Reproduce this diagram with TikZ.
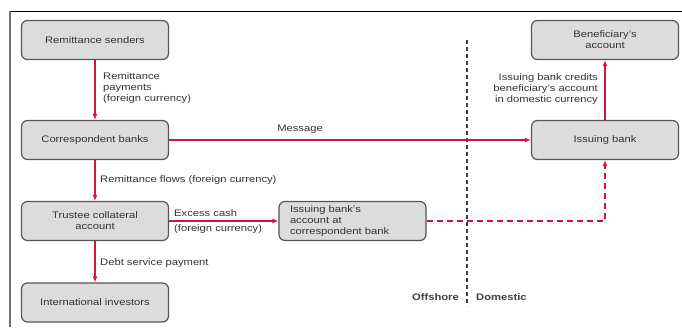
\documentclass[tikz,border=0pt]{standalone}
\usepackage{fontspec}
\setmainfont{Liberation Sans}[FakeStretch=1.18]
\usetikzlibrary{arrows.meta}
\definecolor{flowred}{HTML}{D4143C}
\definecolor{boxfill}{HTML}{DCDCDC}
\definecolor{boxedge}{HTML}{555555}
\begin{document}
\begin{tikzpicture}[x=1pt,y=-1pt,
  font=\fontsize{9.5}{11}\selectfont,
  entity/.style={draw=boxedge, fill=boxfill, line width=1.2pt, rounded corners=6pt,
    minimum width=147pt, minimum height=39pt, align=center, inner sep=0pt, text=black!80},
  flow/.style={draw=flowred, line width=1.8pt, -{Latex[length=6pt,width=5pt]}},
  lbl/.style={text=black!80, inner sep=0pt, align=left}
]
\useasboundingbox (0,0) rectangle (682,327);
% frame
\draw[black, line width=1pt] (10,11) -- (682,11);
\draw[black!55, line width=1.5pt] (10,11) -- (10,327);

% offshore / domestic divider
\draw[black!75, line width=1.8pt, dash pattern=on 4pt off 3pt] (467,40) -- (467,306);
\node[anchor=east, font=\fontsize{9.5}{11}\selectfont\bfseries, text=black!75, inner sep=0pt] (off) at (459,297) {Offshore};
\node[anchor=west, font=\fontsize{9.5}{11}\selectfont\bfseries, text=black!75, inner sep=0pt] (dom) at (476,297) {Domestic};

% entities
\node[entity] (senders) at (95,40) {Remittance senders};
\node[entity] (corr) at (95,140) {Correspondent banks};
\node[entity] (trustee) at (95,221) {Trustee collateral\\account};
\node[entity] (investors) at (95,302.5) {International investors};
\node[entity, align=left, text width=125pt] (acct) at (352.5,221) {Issuing bank's\\account at\\correspondent bank};
\node[entity] (benef) at (605,40) {Beneficiary's\\account};
\node[entity] (issuing) at (605,140) {Issuing bank};

% flows
\draw[flow] (senders) -- (corr);
\draw[flow] (corr) -- (trustee);
\draw[flow] (trustee) -- (investors);
\draw[flow] (trustee) -- (acct);
\draw[flow] (corr) -- (issuing);
\draw[flow] (issuing) -- (benef);
\coordinate (turn) at (issuing.south |- acct.east);
\draw[flow, dash pattern=on 6pt off 4pt] (acct.east) -- (turn) -- (issuing.south);

% labels
\node[lbl, anchor=north west] (l1) at (103,72) {Remittance\\payments\\(foreign currency)};
\node[lbl] (l2) at (300,129) {Message};
\node[lbl, anchor=west] (l3) at (100,180) {Remittance flows (foreign currency)};
\node[lbl, anchor=west] (l4) at (174,213) {Excess cash};
\node[lbl, anchor=west] (l5) at (174,229) {(foreign currency)};
\node[lbl, anchor=west] (l6) at (100,263) {Debt service payment};
\node[lbl, anchor=north east, align=right] (l7) at (598,73) {Issuing bank credits\\beneficiary's account\\in domestic currency};
\end{tikzpicture}
\end{document}
